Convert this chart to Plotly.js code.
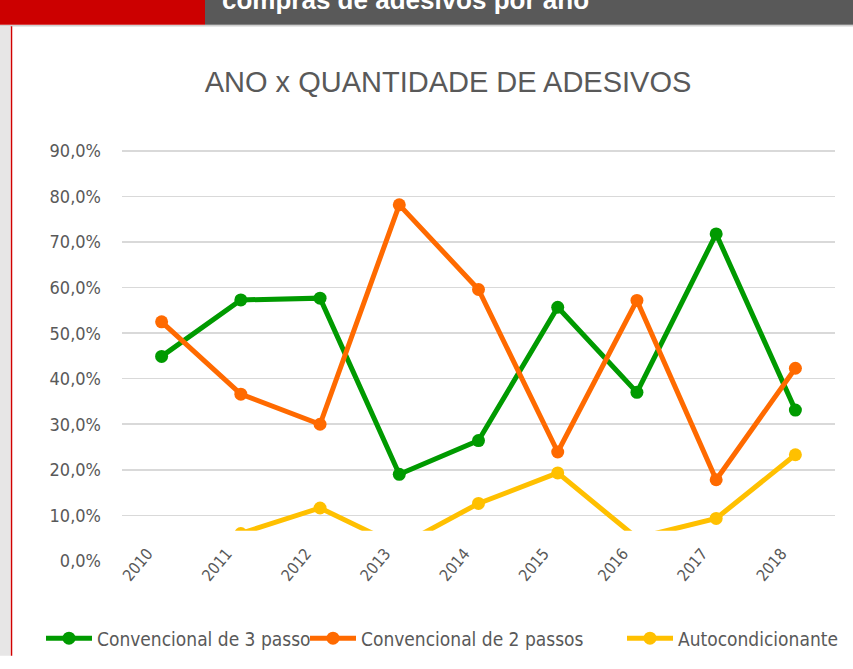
<!DOCTYPE html>
<html>
<head>
<meta charset="utf-8">
<script src="https://cdn.plot.ly/plotly-3.0.1.min.js"></script>
<style>html,body{margin:0;padding:0;background:#fff;}#chart{width:853px;height:669px;}</style>
</head>
<body>
<div id="chart"></div>
<script>
// ---- data ----
const years = ['2010','2011','2012','2013','2014','2015','2016','2017','2018'];
const conv3 = [44.9, 57.3, 57.7, 19.0, 26.4, 55.7, 37.0, 71.8, 33.1];
const conv2 = [52.5, 36.6, 30.0, 78.2, 59.6, 23.9, 57.2, 17.8, 42.3];
const autoc = [3.0, 6.0, 11.6, 3.2, 12.6, 19.3, 5.0, 9.3, 23.3];
const seriesNames = ['Convencional de 3 passo', 'Convencional de 2 passos', 'Autocondicionante'];
const chartTitle = 'ANO x QUANTIDADE DE ADESIVOS';
const headerText = 'compras de adesivos por ano';

// ---- geometry helpers (pixel -> paper) ----
const W = 853, H = 669, ML = 122, MR = 18, MT = 142, MB = 69;
const PW = W - ML - MR, PH = H - MT - MB;
const px = p => (p - ML) / PW;
const py = p => (H - MB - p) / PH;

const narrow = '"Liberation Sans Narrow", "DejaVu Sans Condensed", "Liberation Sans", sans-serif';
const txtCol = '#595959';

function line(name, y, color, lw) {
  return {
    type: 'scatter', mode: 'lines+markers', name: name,
    x: years, y: y, xaxis: 'x', yaxis: 'y',
    line: {color: color, width: 5},
    marker: {color: color, size: 13, symbol: 'circle'},
    legendwidth: lw, hoverinfo: 'x+y+name'
  };
}

const data = [
  line(seriesNames[0], conv3, '#009a00', 203),
  line(seriesNames[1], conv2, '#ff6a00', 256),
  line(seriesNames[2], autoc, '#ffc000', 170),
  {type: 'scatter', mode: 'markers', x: [], y: [], xaxis: 'x2', yaxis: 'y2', showlegend: false, hoverinfo: 'skip'}
];

const layout = {
  width: W, height: H,
  margin: {l: ML, r: MR, t: MT, b: MB, pad: 0},
  paper_bgcolor: '#ffffff', plot_bgcolor: '#ffffff',
  separators: ',.',
  title: {
    text: chartTitle,
    font: {family: '"Liberation Sans", Arial, sans-serif', size: 29, color: txtCol},
    xref: 'paper', x: px(448), xanchor: 'center',
    yref: 'container', y: 1 - 82 / H, yanchor: 'middle'
  },
  xaxis: {
    type: 'category', categoryorder: 'array', categoryarray: years,
    range: [-0.5, 8.5], domain: [0, 1], anchor: 'y',
    showticklabels: false, showgrid: false, zeroline: false, showline: false, ticks: ''
  },
  yaxis: {
    domain: [py(574), 1], range: [0, 92], anchor: 'x',
    tickmode: 'linear', tick0: 0, dtick: 10, tickformat: '.1f', ticksuffix: '%',
    showgrid: true, gridcolor: '#d9d9d9', gridwidth: 1.5,
    zeroline: false, showline: false, ticks: '',
    tickfont: {family: narrow, size: 18, color: txtCol},
    ticklabelstandoff: 20
  },
  xaxis2: {
    domain: [0, (812 - ML) / PW], anchor: 'y2',
    range: [-0.5, -0.5 + 9 * ((812 - ML) / PW)],
    tickmode: 'array', tickvals: years.map((_, i) => i), ticktext: years,
    tickangle: -50, showgrid: false, zeroline: false, showline: false, ticks: '',
    tickfont: {family: narrow, size: 16, color: txtCol},
    ticklabelstandoff: -46, ticklabelshift: -14
  },
  yaxis2: {
    domain: [0, py(543)], anchor: 'x2', range: [0, 1],
    showgrid: false, zeroline: false, showline: false, showticklabels: false, ticks: ''
  },
  showlegend: true,
  legend: {
    orientation: 'h', x: px(41), xanchor: 'left', y: py(654), yanchor: 'middle',
    itemwidth: 46, traceorder: 'normal',
    font: {family: narrow, size: 19, color: txtCol},
    bgcolor: 'rgba(0,0,0,0)'
  },
  shapes: [
    {type: 'rect', xref: 'paper', yref: 'paper', x0: px(-2), x1: px(205), y0: py(21), y1: py(-5), fillcolor: '#cc0000', line: {width: 0}},
    {type: 'rect', xref: 'paper', yref: 'paper', x0: px(205), x1: px(856), y0: py(21), y1: py(-5), fillcolor: '#595959', line: {width: 0}},
    {type: 'line', xref: 'paper', yref: 'paper', x0: px(-2), x1: px(856), y0: py(22), y1: py(22), line: {color: '#d0d0d0', width: 1.5}},
    {type: 'rect', xref: 'paper', yref: 'paper', x0: px(-2), x1: px(10), y0: py(672), y1: py(22.5), fillcolor: '#e7e6e6', line: {width: 0}},
    {type: 'line', xref: 'paper', yref: 'paper', x0: px(11.5), x1: px(11.5), y0: py(672), y1: py(22.5), line: {color: '#d00000', width: 1.5}}
  ],
  annotations: [
    {text: headerText, xref: 'paper', yref: 'paper', x: px(220), xanchor: 'left', y: py(-4), yanchor: 'middle',
     showarrow: false, font: {family: '"Liberation Sans", Arial, sans-serif', size: 26, color: '#ffffff', weight: 'bold'}}
  ]
};

Plotly.newPlot('chart', data, layout, {displayModeBar: false, staticPlot: true});
</script>
</body>
</html>
